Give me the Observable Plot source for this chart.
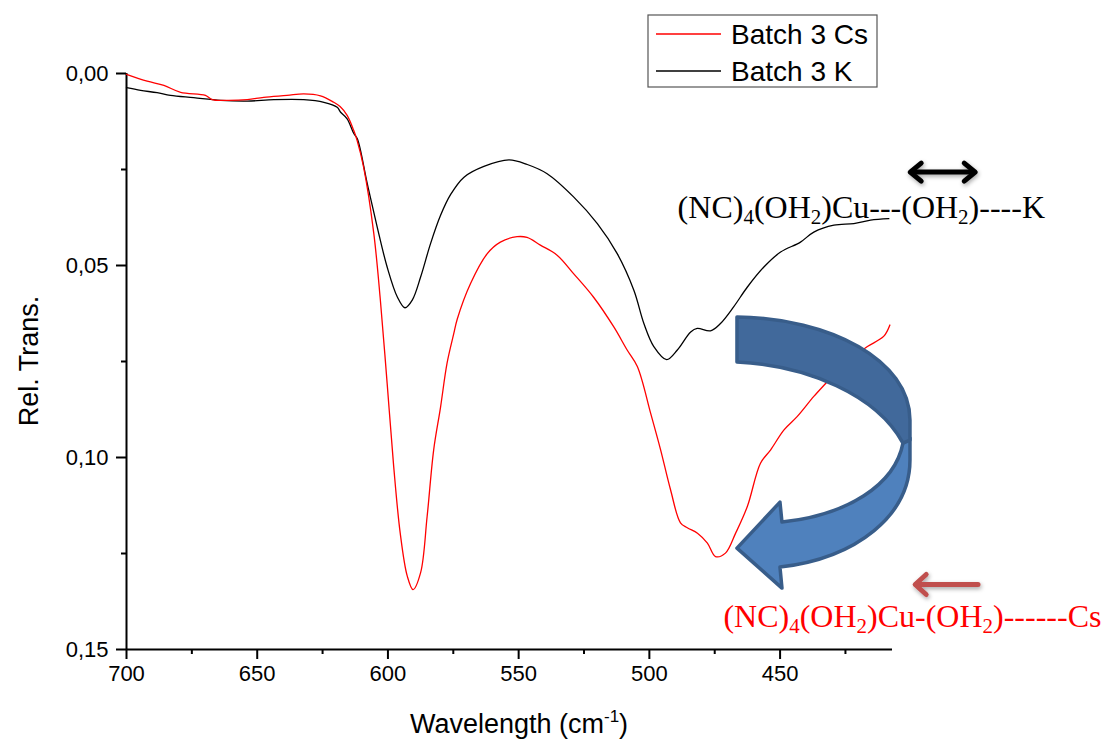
<!DOCTYPE html>
<html>
<head>
<meta charset="utf-8">
<script src="https://cdn.jsdelivr.net/npm/d3@7"></script>
<script src="https://cdn.jsdelivr.net/npm/@observablehq/plot@0.6"></script>
<style>
  html, body { margin: 0; padding: 0; background: #fff; }
  #chart { width: 1104px; height: 740px; }
</style>
</head>
<body>
<div id="chart"></div>
<script>
// ---- Data ----
const seriesNames = ["Batch 3 Cs", "Batch 3 K"];

const csWave = [700, 692.1, 685.7, 679.3, 669.8, 667.3, 661.5, 653.8, 647.5, 638.6, 632.2, 625.8, 620.7, 618.3, 615.6, 613.1, 611.8, 609.3, 605.4, 602.9, 600.3, 597.8, 595.3, 592.6, 590.4, 587.5, 585.0, 582.5, 579.9, 577.4, 574.8, 573.5, 568.4, 562.0, 557.0, 550.6, 546.8, 541.7, 535.3, 529.0, 521.4, 513.6, 508.5, 504.6, 499.5, 495.7, 491.9, 488.1, 485.5, 481.6, 477.8, 474.7, 470.9, 467.0, 462.5, 457.5, 453.6, 448.5, 443.4, 437.1, 431.9, 426.9, 421.9, 416.6, 410.3, 408.0];
const csTrans = [0.0002, 0.0020, 0.0031, 0.0049, 0.0057, 0.0068, 0.0070, 0.0068, 0.0062, 0.0057, 0.0053, 0.0058, 0.0075, 0.0086, 0.0109, 0.0148, 0.0174, 0.0244, 0.0417, 0.0590, 0.0807, 0.1023, 0.1197, 0.1309, 0.1344, 0.1300, 0.1153, 0.0980, 0.0870, 0.0755, 0.0677, 0.0640, 0.0547, 0.0469, 0.0439, 0.0425, 0.0427, 0.0447, 0.0473, 0.0521, 0.0582, 0.0660, 0.0720, 0.0763, 0.0885, 0.0980, 0.1084, 0.1170, 0.1183, 0.1197, 0.1223, 0.1258, 0.1249, 0.1197, 0.1127, 0.1015, 0.0980, 0.0928, 0.0893, 0.0841, 0.0802, 0.0763, 0.0737, 0.0711, 0.0684, 0.0655];

const kWave = [700, 694.6, 688.3, 683.2, 674.3, 664.0, 653.8, 643.6, 632.2, 624.5, 619.4, 618.1, 615.6, 613.0, 611.7, 607.9, 604.1, 600.3, 596.4, 593.5, 590.7, 587.5, 583.7, 579.9, 576.0, 570.9, 563.3, 553.7, 546.7, 539.1, 528.9, 519.9, 512.3, 505.9, 502.1, 498.3, 493.4, 489.3, 484.2, 481.7, 476.6, 472.8, 467.7, 462.5, 456.2, 449.8, 442.2, 437.1, 429.4, 421.8, 415.4, 408.4];
const kTrans = [0.0037, 0.0044, 0.0050, 0.0057, 0.0063, 0.0070, 0.0072, 0.0068, 0.0068, 0.0075, 0.0088, 0.0101, 0.0118, 0.0157, 0.0170, 0.0287, 0.0400, 0.0504, 0.0582, 0.0610, 0.0590, 0.0530, 0.0443, 0.0370, 0.0315, 0.0270, 0.0242, 0.0225, 0.0237, 0.0261, 0.0322, 0.0391, 0.0469, 0.0565, 0.0651, 0.0711, 0.0745, 0.0720, 0.0673, 0.0664, 0.0670, 0.0651, 0.0607, 0.0556, 0.0504, 0.0465, 0.0439, 0.0413, 0.0395, 0.0391, 0.0382, 0.0378];

const xMajorTicks = [700, 650, 600, 550, 500, 450];
const xMinorTicks = [675, 625, 575, 525, 475, 425];
const yMajorTicks = [0, 0.05, 0.10, 0.15];
const yMinorTicks = [0.025, 0.075, 0.125];

const xTitle = "Wavelength (cm";
const xTitleSup = "-1";
const yTitle = "Rel. Trans.";

// annotation anchors (data coordinates)
const kLabelAt = {x: 489.0, y: 0.0378};
const csLabelAt = {x: 471.5, y: 0.1443};
const doubleArrow = {x1: 400.8, x2: 374.4, y: 0.0258};
const redArrow = {x1: 374.1, x2: 398.9, y: 0.1332};
const curvedArrowAt = {x: 466.3, y: 0.0956};

// ---- Build tables ----
const csData = csWave.map((w, i) => ({w, t: csTrans[i]}));
const kData = kWave.map((w, i) => ({w, t: kTrans[i]}));

const chart = Plot.plot({
  width: 1104,
  height: 740,
  marginLeft: 126,
  marginRight: 212,
  marginTop: 73,
  marginBottom: 91,
  style: {fontFamily: "'Liberation Sans', Arial, sans-serif", fontSize: "22px", color: "#000", background: "#fff", overflow: "visible"},
  x: {domain: [700, 407], label: null},
  y: {domain: [0, 0.15], reverse: true, label: null},
  marks: [
    Plot.axisX({ticks: xMajorTicks, tickSize: 10, tickPadding: 6, tickFormat: d => String(d), strokeWidth: 2, fontSize: 22, label: null}),
    Plot.axisX({ticks: xMinorTicks, tickSize: 5, text: null, strokeWidth: 2, label: null}),
    Plot.axisY({ticks: yMajorTicks, tickSize: 10, tickPadding: 8, tickFormat: d => d.toFixed(2).replace(".", ","), strokeWidth: 2, fontSize: 22, label: null}),
    Plot.axisY({ticks: yMinorTicks, tickSize: 5, text: null, strokeWidth: 2, label: null}),
    Plot.ruleX([700], {stroke: "#000", strokeWidth: 2}),
    Plot.ruleY([0.15], {stroke: "#000", strokeWidth: 2}),
    Plot.line(kData, {x: "w", y: "t", stroke: "#000", strokeWidth: 1.3, curve: "catmull-rom"}),
    Plot.line(csData, {x: "w", y: "t", stroke: "#ff0000", strokeWidth: 1.3, curve: "catmull-rom"})
  ]
});

document.getElementById("chart").appendChild(chart);

const sx = chart.scale("x");
const sy = chart.scale("y");
const svg = d3.select(chart);

// filter for soft shadows
const defs = svg.append("defs");
const f = defs.append("filter").attr("id", "shadow").attr("x", "-30%").attr("y", "-60%").attr("width", "160%").attr("height", "220%");
f.append("feDropShadow").attr("dx", 1).attr("dy", 2).attr("stdDeviation", 2).attr("flood-color", "#000").attr("flood-opacity", 0.35);

// axis titles
const xt = svg.append("text")
  .attr("x", (sx.apply(700) + sx.apply(407)) / 2 + 10)
  .attr("y", 733)
  .attr("text-anchor", "middle")
  .attr("font-family", "'Liberation Sans', Arial, sans-serif")
  .attr("font-size", 27)
  .attr("fill", "#000");
xt.append("tspan").text(xTitle);
xt.append("tspan").attr("dy", -11).attr("font-size", 17).text(xTitleSup);
xt.append("tspan").attr("dy", 11).text(")");

svg.append("text")
  .attr("transform", `translate(38,${(sy.apply(0) + sy.apply(0.15)) / 2}) rotate(-90)`)
  .attr("text-anchor", "middle")
  .attr("font-family", "'Liberation Sans', Arial, sans-serif")
  .attr("font-size", 27)
  .attr("fill", "#000")
  .text(yTitle);

// legend
const lg = svg.append("g").attr("font-family", "'Liberation Sans', Arial, sans-serif").attr("font-size", 28).attr("text-anchor", "start");
const lgx = sx.apply(700) + 522, lgy = 15;
lg.append("rect").attr("x", lgx).attr("y", lgy).attr("width", 229).attr("height", 72)
  .attr("fill", "#fff").attr("stroke", "#555").attr("stroke-width", 1.2);
[["#ff0000", seriesNames[0]], ["#000", seriesNames[1]]].forEach(([c, name], i) => {
  const yy = lgy + 19 + i * 37;
  lg.append("line").attr("x1", lgx + 8).attr("x2", lgx + 73).attr("y1", yy).attr("y2", yy).attr("stroke", c).attr("stroke-width", 1.3);
  lg.append("text").attr("x", lgx + 83).attr("y", yy).attr("dy", "0.36em").attr("fill", "#000").text(name);
});

// formula labels with subscripts
function formula(x, y, parts, color) {
  const t = svg.append("text").attr("x", x).attr("y", y)
    .attr("text-anchor", "start")
    .attr("font-family", "'Liberation Serif', 'Times New Roman', serif")
    .attr("font-size", 32).attr("fill", color);
  let down = false;
  parts.forEach(([s, sub]) => {
    if (sub) {
      t.append("tspan").attr("dy", down ? 0 : 6).attr("font-size", 21).text(s);
      down = true;
    } else {
      t.append("tspan").attr("dy", down ? -6 : 0).text(s);
      down = false;
    }
  });
  return t;
}
formula(sx.apply(kLabelAt.x), sy.apply(kLabelAt.y),
  [["(NC)"], ["4", true], ["(OH"], ["2", true], [")Cu---(OH"], ["2", true], [")----K"]], "#000");
formula(sx.apply(csLabelAt.x), sy.apply(csLabelAt.y),
  [["(NC)"], ["4", true], ["(OH"], ["2", true], [")Cu-(OH"], ["2", true], [")------Cs"]], "#ff0000");

// double-headed black arrow
{
  const x1 = sx.apply(doubleArrow.x1), x2 = sx.apply(doubleArrow.x2), y = sy.apply(doubleArrow.y);
  const g = svg.append("g").attr("filter", "url(#shadow)");
  g.append("line").attr("x1", x1 + 3).attr("x2", x2 - 3).attr("y1", y).attr("y2", y).attr("stroke", "#000").attr("stroke-width", 5);
  g.append("path").attr("d", `M${x1 + 13},${y - 9} L${x1 + 2},${y} L${x1 + 13},${y + 9}`).attr("fill", "none").attr("stroke", "#000").attr("stroke-width", 5).attr("stroke-linecap", "round").attr("stroke-linejoin", "round");
  g.append("path").attr("d", `M${x2 - 13},${y - 9} L${x2 - 2},${y} L${x2 - 13},${y + 9}`).attr("fill", "none").attr("stroke", "#000").attr("stroke-width", 5).attr("stroke-linecap", "round").attr("stroke-linejoin", "round");
}

// red arrow pointing left
{
  const x1 = sx.apply(redArrow.x1), x2 = sx.apply(redArrow.x2), y = sy.apply(redArrow.y);
  const g = svg.append("g").attr("filter", "url(#shadow)");
  g.append("line").attr("x1", x1).attr("x2", x2 + 3).attr("y1", y).attr("y2", y).attr("stroke", "#c0504d").attr("stroke-width", 5).attr("stroke-linecap", "round");
  g.append("path").attr("d", `M${x2 + 13},${y - 10} L${x2 + 2},${y} L${x2 + 13},${y + 10}`).attr("fill", "none").attr("stroke", "#c0504d").attr("stroke-width", 5).attr("stroke-linecap", "round").attr("stroke-linejoin", "round");
}

// big curved blue arrow
{
  const ox = sx.apply(curvedArrowAt.x), oy = sy.apply(curvedArrowAt.y);
  const g = svg.append("g").attr("transform", `translate(${ox},${oy})`).attr("stroke", "#385d8a").attr("stroke-width", 3.5).attr("stroke-linejoin", "round");
  g.append("path").attr("fill", "#4f81bd")
    .attr("d", "M166,3 L173,-2 L173,20 C173,75 120,118 43,127 L45,148 L0,108 L43,62 L45,82 C110,75 158,45 166,3 Z");
  g.append("path").attr("fill", "#41699b")
    .attr("d", "M0,-123 C93,-122 173,-80 173,-20 L173,0 L166,3 C140,-45 70,-75 0,-78 Z");
}
</script>
</body>
</html>
